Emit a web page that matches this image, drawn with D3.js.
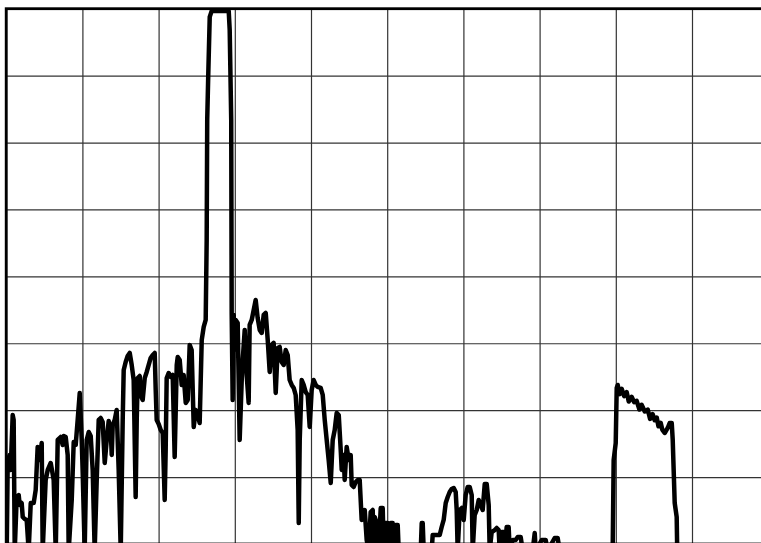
<!DOCTYPE html>
<html>
<head>
<meta charset="utf-8">
<script src="https://cdn.jsdelivr.net/npm/d3@7"></script>
<style>
  html, body { margin: 0; padding: 0; background: #fff; }
  svg { display: block; }
</style>
</head>
<body>
<div id="chart"></div>
<script>
'use strict';

// grid ticks (10 units per grid cell)
var xTicks = [0, 10, 20, 30, 40, 50, 60, 70, 80, 90, 100];
var yTicks = [0, 10, 20, 30, 40, 50, 60, 70, 80];

// trace (x in grid units x10, y in grid units x10)
var xs = [
  0.07, 0.20, 0.46, 0.59, 0.85, 0.98, 1.12, 1.38, 1.64, 1.77, 2.03, 2.17, 2.43, 2.69, 2.95,
  3.22, 3.61, 3.87, 4.13, 4.40, 4.66, 4.79, 5.18, 5.45, 5.84, 6.23, 6.50, 6.76, 7.15, 7.41,
  7.55, 7.81, 8.07, 8.20, 8.60, 8.86, 9.12, 9.38, 9.65, 9.91, 10.04, 10.30, 10.56, 10.83, 11.09,
  11.35, 11.61, 11.88, 12.14, 12.40, 12.66, 12.93, 13.19, 13.45, 13.71, 13.85, 13.98, 14.24, 14.50, 14.76,
  15.03, 15.29, 15.42, 15.68, 15.94, 16.21, 16.47, 16.73, 16.99, 17.13, 17.26, 17.52, 17.65, 17.91, 18.18,
  18.44, 18.70, 18.96, 19.23, 19.49, 19.62, 19.75, 20.01, 20.28, 20.54, 20.80, 20.93, 21.06, 21.33, 21.59,
  21.85, 22.11, 22.38, 22.51, 22.77, 23.03, 23.29, 23.56, 23.82, 24.08, 24.34, 24.61, 24.87, 25.13, 25.39,
  25.66, 25.92, 26.18, 26.31, 26.38, 26.51, 26.71, 26.97, 27.10, 29.20, 29.33, 29.53, 29.59, 29.72, 29.86,
  29.99, 30.12, 30.38, 30.64, 30.91, 31.04, 31.30, 31.56, 31.82, 31.95, 32.22, 32.48, 32.74, 33.00, 33.27,
  33.53, 33.79, 34.06, 34.32, 34.58, 34.84, 35.10, 35.37, 35.63, 35.89, 36.15, 36.42, 36.68, 36.94, 37.20,
  37.47, 37.73, 37.99, 38.25, 38.39, 38.52, 38.78, 39.04, 39.30, 39.57, 39.83, 40.09, 40.35, 40.62, 40.88,
  41.27, 41.54, 41.80, 42.06, 42.32, 42.59, 42.85, 43.11, 43.37, 43.64, 43.90, 44.03, 44.29, 44.42, 44.68,
  44.95, 45.21, 45.34, 45.60, 45.87, 46.13, 46.39, 46.65, 46.78, 47.05, 47.31, 47.57, 47.83, 48.10, 48.23,
  48.36, 48.62, 48.88, 49.15, 49.41, 49.54, 49.80, 50.07, 50.20, 50.46, 50.72, 50.85, 51.12, 51.38, 51.51,
  54.40, 54.53, 54.66, 54.79, 55.84, 55.97, 56.50, 56.89, 57.15, 57.41, 57.68, 57.94, 58.20, 58.46, 58.73,
  58.99, 59.12, 59.25, 59.51, 59.78, 60.04, 60.30, 60.56, 60.83, 61.09, 61.22, 61.48, 61.75, 62.01, 62.27,
  62.53, 62.80, 63.06, 63.32, 63.45, 63.71, 64.11, 64.37, 64.63, 64.76, 65.03, 65.29, 65.42, 65.68, 65.94,
  66.08, 66.47, 66.86, 67.13, 67.52, 67.78, 69.09, 69.36, 69.49, 70.28, 70.80, 71.06, 71.98, 72.37, 72.64,
  79.59, 79.72, 79.99, 80.12, 80.25, 80.50, 80.77, 81.10, 81.43, 81.70, 82.09, 82.40, 82.74, 83.10, 83.40,
  83.80, 84.19, 84.50, 84.84, 85.10, 85.37, 85.60, 85.89, 86.10, 86.42, 86.81, 87.07, 87.34, 87.47, 87.73,
  87.99, 88.06, 99.00
];
var ys = [
  -1, 12.56, 13.30, 11.06, 19.28, 18.54, -1, 7.03, 7.32, 5.83, 6.13, 4.04, 3.74, 3.59, -1,
  6.13, 6.13, 8.07, 14.50, 12.56, 15.10, -1, 9.57, 11.06, 12.11, 9.57, -1, 15.55, 15.99, 14.80,
  16.14, 15.99, 13.30, -1, 6.58, 15.25, 14.80, 18.54, 22.57, 15.55, 10.61, -1, 15.55, 16.74, 16.14,
  11.06, -1, 9.57, 18.54, 18.83, 18.24, 12.11, 15.55, 18.39, 17.04, 13.30, 17.79, 18.54, 20.03, 11.06,
  -1, 18.54, 26.01, 27.21, 28.10, 28.55, 26.76, 24.51, 7.03, 18.54, 24.81, 25.11, 22.27, 21.53, 24.81,
  25.71, 26.76, 27.80, 28.25, 28.55, 23.02, 18.54, 17.94, 17.04, 16.59, 6.58, 14.05, 24.81, 25.56, 24.96,
  25.26, 13.00, 26.76, 27.95, 27.50, 23.77, 25.26, 21.08, 21.53, 29.75, 29.00, 17.49, 20.03, 19.28, 18.09,
  30.49, 32.44, 33.48, 45.44, 63.38, 69.81, 78.78, 79.67, 79.67, 79.67, 76.83, 63.38, 34.53, 21.53, 34.23,
  29.00, 33.48, 33.04, 15.55, 24.51, 27.50, 31.99, 25.26, 21.08, 32.74, 33.48, 34.98, 36.47, 33.78, 31.99,
  31.54, 34.23, 34.53, 30.49, 25.71, 29.75, 30.05, 22.57, 29.30, 29.45, 27.21, 26.76, 29.00, 28.25, 24.51,
  23.77, 23.32, 22.27, 17.04, 3.14, 15.55, 24.51, 23.77, 22.72, 22.27, 17.49, 23.02, 24.51, 23.77, 23.47,
  23.32, 22.27, 18.54, 15.55, 12.56, 9.12, 15.55, 17.04, 19.58, 19.28, 14.05, 11.06, 13.30, 9.57, 14.50,
  12.56, 13.30, 8.82, 8.52, 9.27, 9.57, 9.57, 3.59, 4.33, 5.08, 0.60, -1, 4.78, 5.08, -1,
  4.04, 3.14, -1, 5.38, 5.38, -1, 3.14, 3.14, -1, 3.14, 3.14, -1, 2.84, 2.84, -1,
  -1, 3.14, 3.14, -1, -1, 1.35, 1.35, 1.35, 2.54, 3.59, 6.13, 7.03, 7.77, 8.22, 8.37,
  7.77, 5.08, -1, 5.08, 5.38, 3.59, 7.32, 8.52, 8.52, 7.32, -1, 4.33, 5.08, 6.58, 5.83,
  5.08, 8.97, 8.97, 5.83, -1, 1.79, 2.09, 2.39, 2.09, -1, 1.79, 1.79, -1, 2.54, 2.54,
  -1, 0.60, 0.60, 1.05, 1.05, -1, -1, 1.64, -1, 0.60, 0.60, -1, 0.90, 0.90, -1,
  -1, 12.56, 15.10, 23.32, 23.77, 22.40, 23.20, 22.10, 22.70, 21.30, 22.00, 21.20, 21.40, 20.10, 20.80,
  19.80, 20.10, 18.70, 19.40, 18.50, 18.90, 17.60, 18.10, 17.10, 16.59, 17.34, 18.09, 18.09, 15.55, 6.13,
  4.04, -1, -1
];

var W = 761, H = 543;
var marginLeft = 6.2, marginTop = 8.7;
var plotW = 762, plotH = 535.3;

var svg = d3.select('#chart').append('svg')
    .attr('width', W)
    .attr('height', H);

svg.append('rect').attr('width', W).attr('height', H).attr('fill', '#fff');

var x = d3.scaleLinear().domain([0, 100]).range([marginLeft, marginLeft + plotW]);
var y = d3.scaleLinear().domain([0, 80]).range([marginTop + plotH, marginTop]);

// grid through axes
svg.append('g')
    .attr('class', 'grid')
    .attr('transform', 'translate(0,' + (marginTop + plotH) + ')')
    .call(d3.axisBottom(x).tickValues(xTicks).tickSize(-plotH).tickFormat(''));
svg.append('g')
    .attr('class', 'grid')
    .attr('transform', 'translate(' + marginLeft + ',0)')
    .call(d3.axisLeft(y).tickValues(yTicks).tickSize(-plotW).tickFormat(''));
svg.selectAll('.grid .domain').remove();
svg.selectAll('.grid line')
    .attr('stroke', '#333')
    .attr('stroke-width', 1.2);

svg.append('clipPath').attr('id', 'plot')
  .append('rect')
    .attr('x', marginLeft).attr('y', marginTop)
    .attr('width', plotW).attr('height', plotH);

var pts = xs.map(function(v, i) { return [v, ys[i]]; });

var line = d3.line()
    .x(function(d) { return x(d[0]); })
    .y(function(d) { return y(d[1]); });

svg.append('path')
    .datum(pts)
    .attr('clip-path', 'url(#plot)')
    .attr('fill', 'none')
    .attr('stroke', '#000')
    .attr('stroke-width', 4.5)
    .attr('stroke-linejoin', 'round')
    .attr('stroke-linecap', 'round')
    .attr('d', line);

// frame
svg.append('rect')
    .attr('x', marginLeft).attr('y', marginTop)
    .attr('width', plotW).attr('height', plotH)
    .attr('fill', 'none')
    .attr('stroke', '#000')
    .attr('stroke-width', 2.8);
</script>
</body>
</html>
